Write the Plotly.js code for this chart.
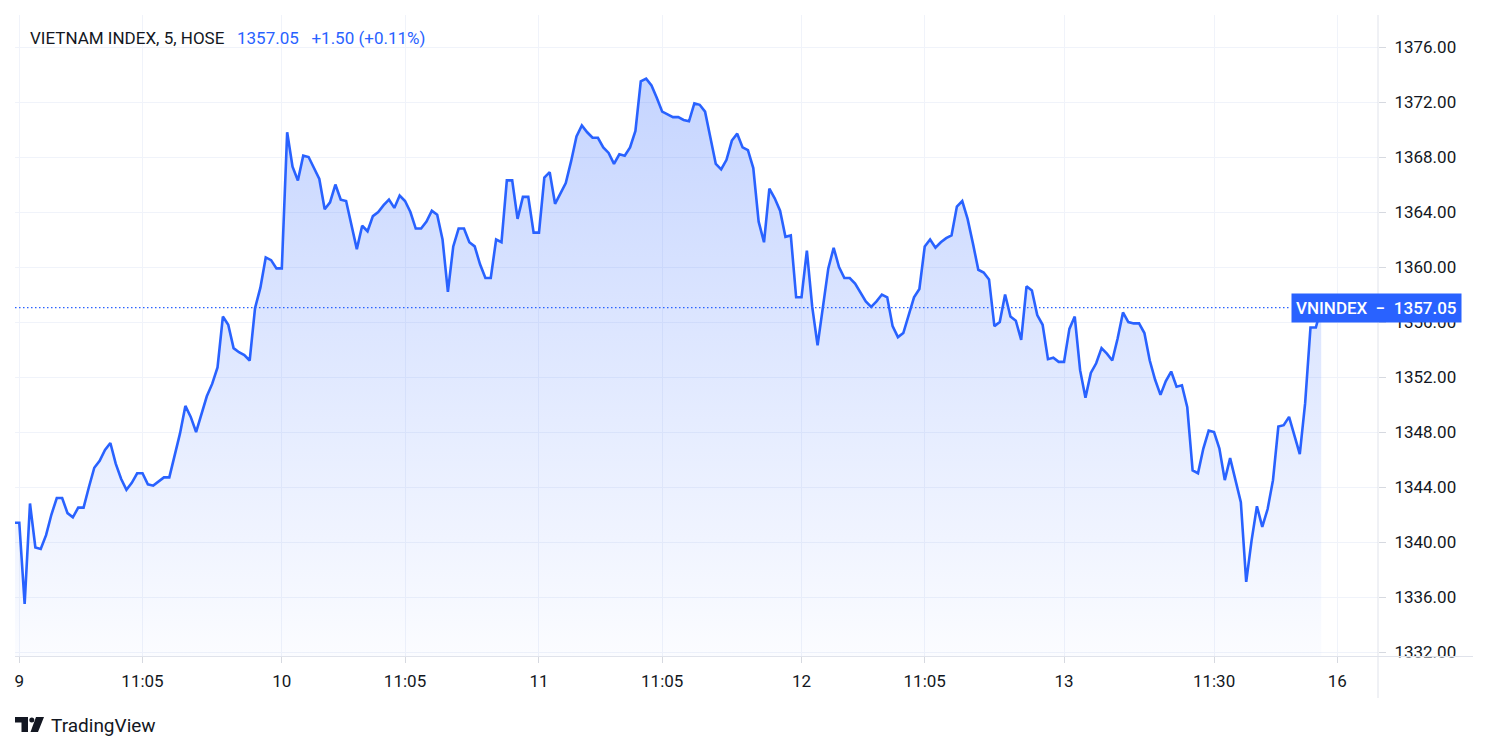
<!DOCTYPE html>
<html>
<head>
<meta charset="utf-8">
<script src="https://cdn.plot.ly/plotly-3.0.1.min.js"></script>
<style>
  html, body { margin: 0; padding: 0; background: #ffffff; }
  #chart { width: 1489px; height: 752px; }
</style>
</head>
<body>
<div id="chart"></div>
<script>
// ---- data (5-minute closes, VN-Index, HOSE) ----
const closes = [
  1341.4, 1341.4, 1335.5, 1342.8, 1339.6, 1339.5, 1340.5, 1342.0, 1343.2, 1343.2,
  1342.1, 1341.8, 1342.5, 1342.5, 1344.0, 1345.4, 1345.9, 1346.7, 1347.2, 1345.7,
  1344.6, 1343.8, 1344.3, 1345.0, 1345.0, 1344.2, 1344.1, 1344.4, 1344.7, 1344.7,
  1346.2, 1347.9, 1349.9, 1349.1, 1348.0, 1349.4, 1350.6, 1351.5, 1352.7, 1356.4,
  1355.8, 1354.1, 1353.8, 1353.6, 1353.2, 1357.0, 1358.5, 1360.7, 1360.5, 1359.9,
  1359.9,
  1369.8, 1367.3, 1366.3, 1368.1, 1368.0, 1367.2, 1366.4, 1364.2, 1364.7, 1366.0,
  1364.9, 1364.8, 1363.0, 1361.3, 1363.0, 1362.6, 1363.7, 1364.0, 1364.5, 1364.9,
  1364.3, 1365.2, 1364.8, 1364.0, 1362.8, 1362.8, 1363.3, 1364.1, 1363.8, 1362.0,
  1358.2, 1361.5, 1362.8, 1362.8, 1361.8, 1361.5, 1360.2, 1359.2, 1359.2, 1362.0,
  1361.8, 1366.3, 1366.3, 1363.5, 1365.1, 1365.1, 1362.5, 1362.5, 1366.5, 1366.9,
  1364.6, 1365.4, 1366.1, 1367.7, 1369.5, 1370.3, 1369.8, 1369.4, 1369.4, 1368.7,
  1368.3, 1367.5, 1368.2, 1368.1, 1368.7, 1369.9, 1373.5, 1373.7, 1373.2, 1372.3,
  1371.3, 1371.1, 1370.9, 1370.9, 1370.7, 1370.6, 1371.9, 1371.8, 1371.3, 1369.4,
  1367.5, 1367.1, 1367.8, 1369.2, 1369.7, 1368.7, 1368.5, 1367.2, 1363.3, 1361.8,
  1365.7, 1365.0, 1364.1, 1362.2, 1362.3, 1357.8, 1357.8, 1361.2, 1357.1, 1354.3,
  1357.1, 1359.9, 1361.4, 1360.0, 1359.2, 1359.2, 1358.8, 1358.1, 1357.5, 1357.1,
  1357.5, 1358.0, 1357.8, 1355.7, 1354.9, 1355.2, 1356.5, 1357.8, 1358.4, 1361.5,
  1362.0, 1361.4, 1361.8, 1362.1, 1362.3, 1364.4, 1364.8, 1363.5, 1361.7, 1359.8,
  1359.6, 1359.1, 1355.7, 1356.0, 1358.0, 1356.4, 1356.1, 1354.7, 1358.6, 1358.3,
  1356.5, 1355.8, 1353.3, 1353.4, 1353.1, 1353.1, 1355.5, 1356.4, 1352.5, 1350.5,
  1352.3, 1353.0, 1354.1, 1353.7, 1353.2, 1354.8, 1356.7, 1356.0, 1355.9, 1355.9,
  1355.2, 1353.2, 1351.8, 1350.7, 1351.7, 1352.4, 1351.3, 1351.4, 1349.8, 1345.2,
  1345.0, 1346.8, 1348.1, 1348.0, 1346.8, 1344.5, 1346.1, 1344.6, 1342.9, 1337.1,
  1340.1, 1342.6, 1341.1, 1342.4, 1344.5, 1348.4, 1348.5, 1349.1, 1347.8, 1346.4,
  1350.1, 1355.6, 1355.6, 1357.05
];
const barIndex = closes.map((v, i) => i);

// time-axis labels and the bar each one marks
const timeTickBars   = [1, 24, 50, 73, 98, 121, 147, 170, 196, 224, 247];
const timeTickLabels = ['9', '11:05', '10', '11:05', '11', '11:05', '12', '11:05', '13', '11:30', '16'];

// price-axis ticks
const priceTicks = [1332, 1336, 1340, 1344, 1348, 1352, 1356, 1360, 1364, 1368, 1372, 1376];

const symbolTitle = 'VIETNAM INDEX, 5, HOSE';
const symbolShort = 'VNINDEX';
const changeAbs = '+1.50';
const changePct = '(+0.11%)';

// ---- layout helpers ----
const W = 1489, H = 752;
const M = { l: 15, r: 111, t: 15, b: 96 };
const PW = W - M.l - M.r, PH = H - M.t - M.b;
const px = x => (x - M.l) / PW;         // pixel -> paper x
const py = y => (H - M.b - y) / PH;     // pixel -> paper y

const lastVal = closes[closes.length - 1];
const maxVal = Math.max(...closes);
const BLUE = '#2962ff';
const TEXT = '#131722';
const GRID = '#f0f3fa';
const FONT = 'Roboto, "Open Sans", sans-serif';
const nb = '\u00a0';
const gap = nb + nb + nb;

const trace = {
  type: 'scatter',
  mode: 'lines',
  x: barIndex,
  y: closes,
  line: { color: BLUE, width: 2.6 },
  fill: 'tozeroy',
  fillgradient: {
    type: 'vertical',
    start: 1332,
    stop: maxVal,
    colorscale: [[0, 'rgba(41,98,255,0.02)'], [1, 'rgba(41,98,255,0.27)']]
  },
  hoverinfo: 'skip',
  showlegend: false
};

const shapes = [
  // dotted last-price line
  { type: 'line', xref: 'paper', yref: 'y', x0: 0, x1: px(1291), y0: lastVal, y1: lastVal,
    line: { color: BLUE, width: 1.2, dash: '1.5px,2.5px' }, layer: 'above' },
  // mask below time axis over the price scale (clips bottom label)
  { type: 'rect', xref: 'paper', yref: 'paper', x0: px(1379), x1: px(1489), y0: py(668), y1: py(657.5),
    fillcolor: '#ffffff', line: { width: 0 }, layer: 'above' },
  // time axis line
  { type: 'line', xref: 'paper', yref: 'paper', x0: 0, x1: px(1473), y0: py(656.5), y1: py(656.5),
    line: { color: '#e0e3eb', width: 1 }, layer: 'above' },
  // price axis border
  { type: 'line', xref: 'paper', yref: 'paper', x0: 1, x1: 1, y0: py(698), y1: 1,
    line: { color: '#e0e3eb', width: 1 }, layer: 'above' },
  // TradingView logo glyph
  { type: 'path', xref: 'paper', yref: 'paper',
    path: `M ${px(15)} ${py(717)} L ${px(28)} ${py(717)} L ${px(28)} ${py(732)} L ${px(21.5)} ${py(732)} L ${px(21.5)} ${py(722.5)} L ${px(15)} ${py(722.5)} Z`,
    fillcolor: TEXT, line: { width: 0 }, layer: 'above' },
  { type: 'circle', xref: 'paper', yref: 'paper', x0: px(29.3), x1: px(34.3), y0: py(722.5), y1: py(717.5),
    fillcolor: TEXT, line: { width: 0 }, layer: 'above' },
  { type: 'path', xref: 'paper', yref: 'paper',
    path: `M ${px(36)} ${py(717)} L ${px(44)} ${py(717)} L ${px(38)} ${py(732)} L ${px(30.5)} ${py(732)} Z`,
    fillcolor: TEXT, line: { width: 0 }, layer: 'above' }
];

const annotations = [
  { xref: 'paper', yref: 'paper', x: px(28), y: py(38), xanchor: 'left', yanchor: 'middle',
    showarrow: false, align: 'left',
    text: symbolTitle + gap + `<span style="color:${BLUE}">` + lastVal.toFixed(2) + gap + changeAbs + ' ' + changePct + '</span>',
    font: { family: FONT, size: 17, color: TEXT } },
  { xref: 'paper', yref: 'y', x: px(1291), y: lastVal, xanchor: 'left', yanchor: 'middle',
    showarrow: false, bgcolor: BLUE, borderpad: 4,
    text: symbolShort + nb + nb + '\u2212' + nb + nb + lastVal.toFixed(2),
    font: { family: FONT, size: 17, color: '#ffffff', weight: 500 } },
  { xref: 'paper', yref: 'paper', x: px(49), y: py(725), xanchor: 'left', yanchor: 'middle',
    showarrow: false, text: 'TradingView',
    font: { family: FONT, size: 19, color: TEXT } }
];

const layout = {
  width: W, height: H,
  margin: M,
  paper_bgcolor: '#ffffff',
  plot_bgcolor: '#ffffff',
  showlegend: false,
  xaxis: {
    range: [0.2, 254.6],
    tickmode: 'array',
    tickvals: timeTickBars,
    ticktext: timeTickLabels,
    showgrid: true, gridcolor: GRID, gridwidth: 1,
    zeroline: false, showline: false,
    ticks: 'outside', ticklen: 6, tickcolor: '#d6d9e0',
    ticklabelstandoff: 4,
    tickfont: { family: FONT, size: 17, color: TEXT },
    fixedrange: true
  },
  yaxis: {
    side: 'right',
    range: [1331.71, 1378.33],
    tickmode: 'array',
    tickvals: priceTicks,
    ticktext: priceTicks.map(v => v.toFixed(2)),
    showgrid: true, gridcolor: GRID, gridwidth: 1,
    zeroline: false, showline: false,
    ticks: 'outside', ticklen: 7, tickcolor: '#d6d9e0',
    ticklabelstandoff: 5,
    tickfont: { family: FONT, size: 17, color: TEXT },
    fixedrange: true
  },
  shapes: shapes,
  annotations: annotations
};

Plotly.newPlot('chart', [trace], layout, { displayModeBar: false, staticPlot: true });
</script>
</body>
</html>
